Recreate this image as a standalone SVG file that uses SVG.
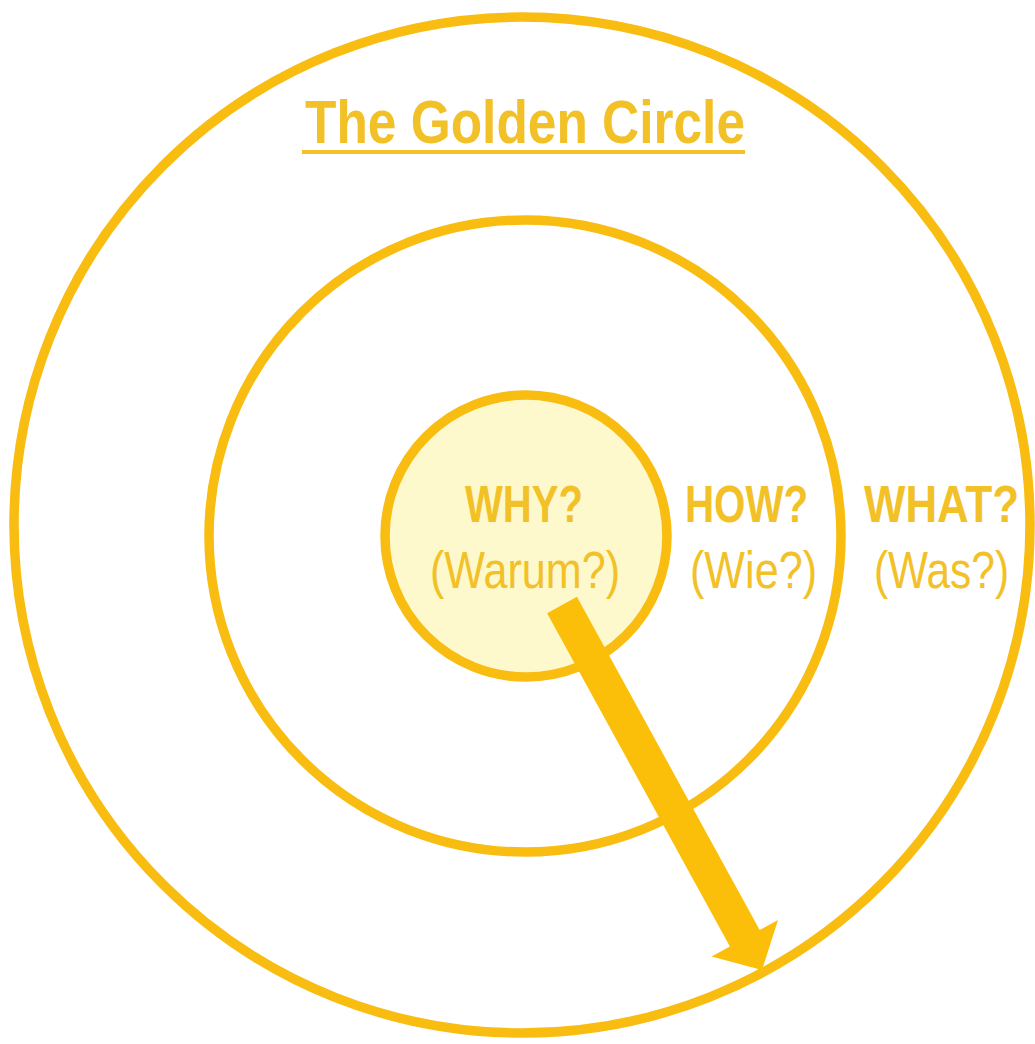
<svg xmlns="http://www.w3.org/2000/svg" width="1035" height="1044" viewBox="0 0 1035 1044">
<style>
.ring{fill:none;stroke:#f8bd10;stroke-width:9.5}
.core{fill:#fdf9cc}
.lbl{font-family:"Liberation Sans",Arial,sans-serif;fill:#f2c127}
.b{font-weight:bold;font-size:52px}
.r{font-size:52px}
</style>
<rect width="1035" height="1044" fill="#ffffff"/>
<g id="outer">
<circle class="ring" cx="522" cy="525" r="508"/>
<text class="lbl b" x="864" y="522" textLength="155" lengthAdjust="spacingAndGlyphs">WHAT?</text>
<text class="lbl r" x="874" y="588" textLength="135" lengthAdjust="spacingAndGlyphs">(Was?)</text>
</g>
<g id="title">
<text class="lbl" x="305" y="143" font-size="62" font-weight="bold" textLength="440" lengthAdjust="spacingAndGlyphs">The Golden Circle</text>
<rect x="302" y="150" width="443" height="4" fill="#f2c127"/>
</g>
<g id="middle">
<circle class="ring" cx="525" cy="536" r="316"/>
<text class="lbl b" x="685" y="522" textLength="123" lengthAdjust="spacingAndGlyphs">HOW?</text>
<text class="lbl r" x="690" y="588" textLength="127" lengthAdjust="spacingAndGlyphs">(Wie?)</text>
</g>
<g id="inner">
<circle class="ring core" cx="526" cy="536" r="141"/>
<text class="lbl b" x="465" y="522" textLength="118" lengthAdjust="spacingAndGlyphs">WHY?</text>
<text class="lbl r" x="430" y="588" textLength="190" lengthAdjust="spacingAndGlyphs">(Warum?)</text>
</g>
<g id="connectors">
<polygon fill="#fbbf0a" points="576.9,596.8 759.7,930.1 778,920 762,970 711.5,956.6 729.9,946.5 547.1,613.2"/>
</g>
</svg>
